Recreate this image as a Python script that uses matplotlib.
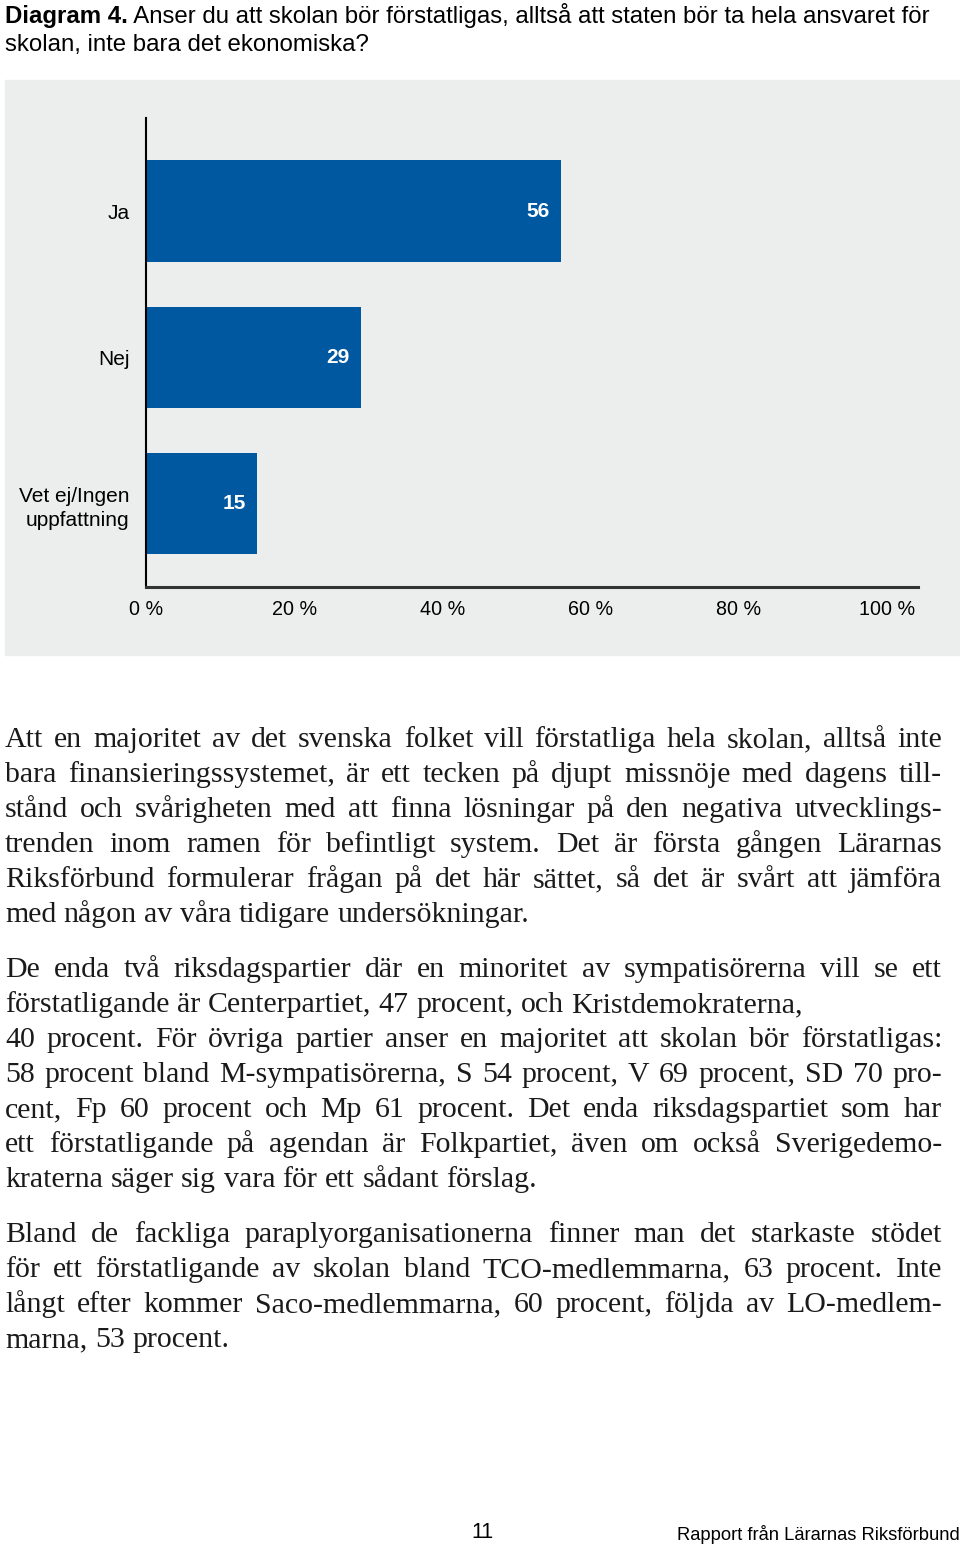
import matplotlib
matplotlib.use("Agg")
import matplotlib.pyplot as plt
from matplotlib.patches import Rectangle

# chart data
categories = ["Ja", "Nej", "Vet ej/Ingen\nuppfattning"]
values = [56, 29, 15]
ticks = [0, 20, 40, 60, 80, 100]
tick_labels = ["0 %", "20 %", "40 %", "60 %", "80 %", "100 %"]

title_bold = "Diagram 4."
title_line1 = " Anser du att skolan bör förstatligas, alltså att staten bör ta hela ansvaret för"
title_line2 = "skolan, inte bara det ekonomiska?"

# body text, one list per paragraph, one string per printed line
para1 = [
    "Att en majoritet av det svenska folket vill förstatliga hela skolan, alltså inte",
    "bara finansieringssystemet, är ett tecken på djupt missnöje med dagens till-",
    "stånd och svårigheten med att finna lösningar på den negativa utvecklings-",
    "trenden inom ramen för befintligt system. Det är första gången Lärarnas",
    "Riksförbund formulerar frågan på det här sättet, så det är svårt att jämföra",
    "med någon av våra tidigare undersökningar.",
]
para2 = [
    "De enda två riksdagspartier där en minoritet av sympatisörerna vill se ett",
    "förstatligande är Centerpartiet, 47 procent, och Kristdemokraterna,",
    "40 procent. För övriga partier anser en majoritet att skolan bör förstatligas:",
    "58 procent bland M-sympatisörerna, S 54 procent, V 69 procent, SD 70 pro-",
    "cent, Fp 60 procent och Mp 61 procent. Det enda riksdagspartiet som har",
    "ett förstatligande på agendan är Folkpartiet, även om också Sverigedemo-",
    "kraterna säger sig vara för ett sådant förslag.",
]
para3 = [
    "Bland de fackliga paraplyorganisationerna finner man det starkaste stödet",
    "för ett förstatligande av skolan bland TCO-medlemmarna, 63 procent. Inte",
    "långt efter kommer Saco-medlemmarna, 60 procent, följda av LO-medlem-",
    "marna, 53 procent.",
]
ragged = {para1[-1], para2[1], para2[-1], para3[-1]}

page_no = "11"
footer = "Rapport från Lärarnas Riksförbund"

W, H = 960, 1546
fig = plt.figure(figsize=(W / 100, H / 100), dpi=100)
fig.patch.set_facecolor("white")

def fx(x):
    return x / W

def fy(y):
    return 1 - y / H

sans = ["Liberation Sans", "DejaVu Sans"]
narrow = ["Liberation Sans Narrow", "Liberation Sans", "DejaVu Sans"]
serif = ["Liberation Serif", "DejaVu Serif"]

# grey panel behind the chart
fig.patches.append(Rectangle((fx(5), fy(655)), (960 - 5) / W, (655 - 80) / H,
                             transform=fig.transFigure, color="#ECEEEE", zorder=-5))

ax = fig.add_axes([fx(146), fy(587), (918 - 146) / W, (587 - 118) / H])
ax.set_facecolor("none")
ax.set_zorder(2)
ypos = list(range(len(categories)))
ax.barh(ypos, values, height=0.69, color="#0058A1")
for y, v in zip(ypos, values):
    ax.annotate(str(v), (v, y), xytext=(-11, 0), textcoords="offset pixels",
                ha="right", va="center", color="white", fontweight="bold",
                fontsize=15, family=narrow)
ax.set_xlim(0, 104.2)
ax.set_ylim(2.567, -0.635)
ax.set_xticks(ticks)
ax.set_xticklabels(tick_labels, family=sans, fontsize=14.2)
ax.set_yticks(ypos)
ax.set_yticklabels(categories, family=sans, fontsize=15, linespacing=1.35)
ax.tick_params(length=0)
ax.tick_params(axis="x", pad=9.5)
ax.tick_params(axis="y", pad=12)
for s in ["top", "right"]:
    ax.spines[s].set_visible(False)
ax.spines["left"].set_linewidth(1.5)
ax.spines["left"].set_color("black")
ax.spines["bottom"].set_linewidth(2.2)
ax.spines["bottom"].set_color("#333333")

fig.canvas.draw()
r = fig.canvas.get_renderer()

# title: bold lead-in then regular text
title_size = 17.3
tb = fig.text(fx(5), fy(23), title_bold, fontsize=title_size, fontweight="bold",
              family=sans, va="baseline", ha="left")
wb = tb.get_window_extent(r).width
fig.text(fx(5 + wb), fy(23), title_line1, fontsize=title_size, family=sans,
         va="baseline", ha="left")
fig.text(fx(5), fy(51), title_line2, fontsize=title_size, family=sans,
         va="baseline", ha="left")

# justified body text
body_size = 21.5
left, right = 5, 942

def word_width(s):
    t = fig.text(0, 0, s, fontsize=body_size, family=serif)
    w = t.get_window_extent(r).width
    t.remove()
    return w

space_w = word_width("a b") - word_width("ab")

def draw_line(line, base):
    words = line.split(" ")
    widths = [word_width(w) for w in words]
    if line in ragged or len(words) < 2:
        gap = space_w
    else:
        gap = (right - left - sum(widths)) / (len(words) - 1)
    x = left
    for w, ww in zip(words, widths):
        fig.text(fx(x), fy(base), w, fontsize=body_size, family=serif,
                 va="baseline", ha="left", color="#1a1a1a")
        x += ww + gap

base = 747
for para in [para1, para2, para3]:
    for line in para:
        draw_line(line, base)
        base += 35
    base += 20

fig.text(fx(482), fy(1533), page_no, fontsize=15.5, family=narrow,
         ha="center", va="center")
fig.text(fx(960), fy(1535), footer, fontsize=13.2, family=sans,
         ha="right", va="center")

fig.savefig("out.png", dpi=100)
